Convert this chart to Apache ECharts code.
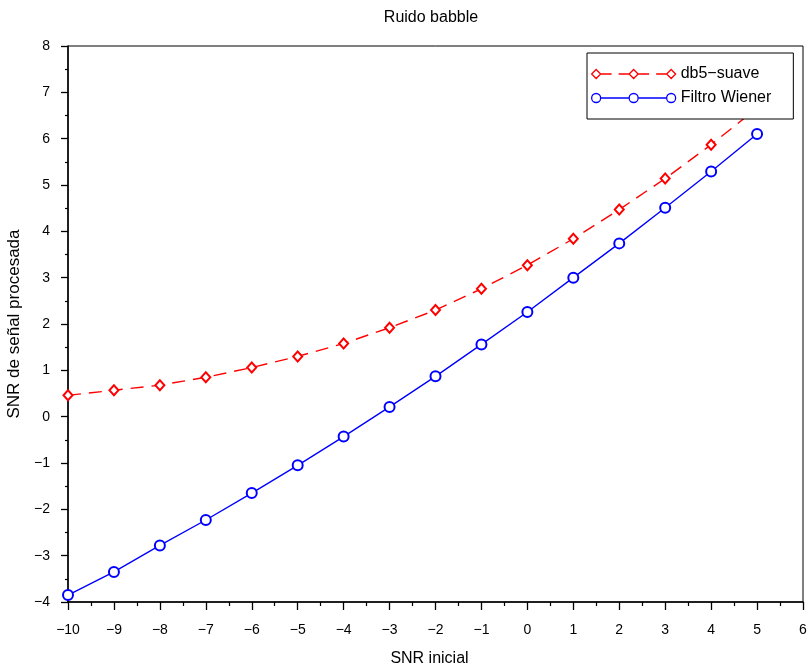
<!DOCTYPE html>
<html>
<head>
<meta charset="utf-8">
<script src="https://cdn.jsdelivr.net/npm/echarts@6/dist/echarts.min.js"></script>
<style>html,body{margin:0;padding:0;background:#fff}#c{width:809px;height:666px}</style>
</head>
<body>
<div id="c"></div>
<script>
const snrInicial = [-10, -9, -8, -7, -6, -5, -4, -3, -2, -1, 0, 1, 2, 3, 4, 5];
const db5Suave = [0.46, 0.57, 0.68, 0.85, 1.06, 1.30, 1.58, 1.92, 2.30, 2.76, 3.27, 3.84, 4.47, 5.14, 5.87, 6.66];
const filtroWiener = [-3.85, -3.35, -2.78, -2.23, -1.65, -1.05, -0.43, 0.21, 0.87, 1.56, 2.26, 3.00, 3.74, 4.51, 5.29, 6.10];
const seriesNames = ['db5\u2212suave', 'Filtro Wiener'];
const titleText = 'Ruido babble';
const xName = 'SNR inicial';
const yName = 'SNR de se\u00f1al procesada';

const FONT = '"Liberation Sans", Arial, Helvetica, sans-serif';
const minusFmt = v => String(v).replace('-', '\u2212');

// legend icons: line + three markers
const redIcon = 'path://M4.5 0 L9 4.5 L4.5 9 L0 4.5 Z M9 4.5 L20 4.5 M27 4.5 L37.5 4.5 M42 0 L46.5 4.5 L42 9 L37.5 4.5 Z M46.5 4.5 L57.5 4.5 M64.5 4.5 L75 4.5 M79.5 0 L84 4.5 L79.5 9 L75 4.5 Z';
const blueIcon = 'path://M0 4.5 A4.5 4.5 0 1 0 9 4.5 A4.5 4.5 0 1 0 0 4.5 Z M9 4.5 L37.5 4.5 M37.5 4.5 A4.5 4.5 0 1 0 46.5 4.5 A4.5 4.5 0 1 0 37.5 4.5 Z M46.5 4.5 L75 4.5 M75 4.5 A4.5 4.5 0 1 0 84 4.5 A4.5 4.5 0 1 0 75 4.5 Z';

const chart = echarts.init(document.getElementById('c'), null, {renderer: 'canvas'});
chart.setOption({
  animation: false,
  backgroundColor: '#fff',
  textStyle: {fontFamily: FONT},
  title: {
    text: titleText, left: 431, top: 10, padding: 0, textAlign: 'center',
    textStyle: {fontFamily: FONT, fontSize: 16, fontWeight: 'normal', color: '#000'}
  },
  grid: {left: 68, right: 6, top: 46, bottom: 64, show: true, borderColor: '#000', borderWidth: 1,
         backgroundColor: 'transparent', containLabel: false, outerBoundsMode: 'none'},
  legend: {
    orient: 'vertical', left: 587, top: 53,
    padding: [13, 22, 13, 4], itemGap: 8,
    itemWidth: 84, itemHeight: 9,
    backgroundColor: '#fff', borderColor: '#000', borderWidth: 1,
    textStyle: {fontFamily: FONT, fontSize: 16, color: '#000', lineHeight: 16},
    data: [
      {name: seriesNames[0], icon: redIcon, itemStyle: {color: '#fff', borderColor: '#ff0000', borderWidth: 1.3}},
      {name: seriesNames[1], icon: blueIcon, itemStyle: {color: '#fff', borderColor: '#0000ff', borderWidth: 1.3}}
    ]
  },
  xAxis: {
    type: 'value', min: -10, max: 6, interval: 1,
    name: xName, nameLocation: 'middle', nameGap: 49,
    nameTextStyle: {fontFamily: FONT, fontSize: 16, color: '#000', padding: [0, 12, 0, 0]},
    axisLine: {show: true, onZero: false, lineStyle: {color: '#000', width: 1.5}},
    axisTick: {show: true, inside: false, length: 8, lineStyle: {color: '#000', width: 1.3}},
    minorTick: {show: true, splitNumber: 2, length: 4, lineStyle: {color: '#000', width: 1.2}},
    splitLine: {show: false},
    axisLabel: {color: '#000', fontSize: 14, fontFamily: FONT, margin: 21, formatter: minusFmt}
  },
  yAxis: {
    type: 'value', min: -4, max: 8, interval: 1,
    name: yName, nameLocation: 'middle', nameGap: 40, nameRotate: 90,
    nameTextStyle: {fontFamily: FONT, fontSize: 17, color: '#000'},
    axisLine: {show: true, onZero: false, lineStyle: {color: '#000', width: 1.5}},
    axisTick: {show: true, inside: false, length: 7, lineStyle: {color: '#000', width: 1.3}},
    minorTick: {show: true, splitNumber: 2, length: 3, lineStyle: {color: '#000', width: 1.2}},
    splitLine: {show: false},
    axisLabel: {color: '#000', fontSize: 14, fontFamily: FONT, margin: 18, formatter: minusFmt}
  },
  series: [
    {
      name: seriesNames[0], type: 'line',
      data: snrInicial.map((x, i) => [x, db5Suave[i]]),
      symbol: 'emptyDiamond', symbolSize: [9, 10],
      lineStyle: {color: '#ff0000', width: 1.4, type: [13, 8]},
      itemStyle: {color: '#ff0000', borderColor: '#ff0000', borderWidth: 1.3},
      z: 2
    },
    {
      name: seriesNames[1], type: 'line',
      data: snrInicial.map((x, i) => [x, filtroWiener[i]]),
      symbol: 'emptyCircle', symbolSize: 10,
      lineStyle: {color: '#0000ff', width: 1.4},
      itemStyle: {color: '#0000ff', borderColor: '#0000ff', borderWidth: 1.3},
      z: 2
    }
  ]
});
</script>
</body>
</html>
